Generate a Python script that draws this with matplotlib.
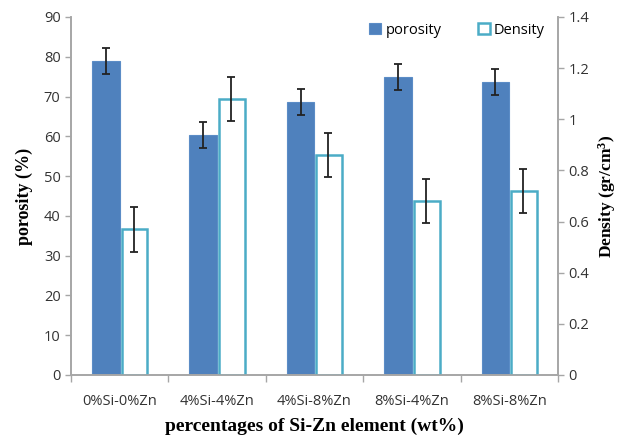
import numpy as np
import matplotlib
matplotlib.use('Agg')
import matplotlib.pyplot as plt

categories = ['0%Si-0%Zn', '4%Si-4%Zn', '4%Si-8%Zn', '8%Si-4%Zn', '8%Si-8%Zn']
porosity = [79.0, 60.3, 68.6, 75.0, 73.6]
porosity_err = [3.3, 3.3, 3.3, 3.3, 3.3]
density = [0.57, 1.08, 0.86, 0.68, 0.72]
density_err = [0.088, 0.086, 0.085, 0.085, 0.085]

blue = '#4f81bd'
cyan = '#4bacc6'
grey = '#a6a6a6'

plt.rcParams['mathtext.fontset'] = 'custom'
plt.rcParams['mathtext.rm'] = 'Liberation Serif:bold'
plt.rcParams['mathtext.it'] = 'Liberation Serif:bold'

fig = plt.figure(figsize=(6.2, 4.42), dpi=100)
ax = fig.add_axes([0.1145, 0.1516, 0.7855, 0.81])
ax2 = ax.twinx()

x = np.arange(len(categories))
w = 0.285

ax.bar(x - w / 2, porosity, w, color=blue, edgecolor='#5b8cc6', linewidth=0.8,
       label='porosity', zorder=2)
ax.errorbar(x - w / 2, porosity, yerr=porosity_err, fmt='none', ecolor='#222222',
            elinewidth=1.3, capsize=3, capthick=1.3, zorder=3)

ax2.bar(x + w / 2 + 0.01, density, w - 0.02, color='white', edgecolor=cyan, linewidth=1.8,
        label='Density', zorder=2)
ax2.errorbar(x + w / 2, density, yerr=density_err, fmt='none', ecolor='#222222',
             elinewidth=1.3, capsize=3, capthick=1.3, zorder=3)

ax.set_xlim(-0.5, len(categories) - 0.5)
ax.set_ylim(0, 90)
ax2.set_ylim(0, 1.4)
ax.set_yticks(np.arange(0, 91, 10))
ax2.set_yticks(np.arange(0, 1.41, 0.2))
ax2.set_yticklabels(['0', '0.2', '0.4', '0.6', '0.8', '1', '1.2', '1.4'])

ax.set_xticks(x)
ax.set_xticklabels(categories)
ax.tick_params(axis='x', which='major', length=0, pad=14)
ax.set_xticks(np.arange(-0.5, len(categories), 1.0), minor=True)
ax.tick_params(axis='x', which='minor', length=5, color=grey, width=1)

for a in (ax, ax2):
    a.spines['top'].set_visible(False)
    for s in ('left', 'right', 'bottom'):
        a.spines[s].set_color(grey)
        a.spines[s].set_linewidth(1.2)
    a.tick_params(axis='y', length=4, color=grey, width=1, labelsize=10.5,
                  labelcolor='#333333')
ax.tick_params(axis='x', labelsize=10.5, labelcolor='#333333')
for lab in ax.get_xticklabels() + ax.get_yticklabels() + ax2.get_yticklabels():
    lab.set_family('Open Sans')

serif = {'family': 'Liberation Serif', 'weight': 'bold', 'size': 13}
ax.set_ylabel('porosity (%)', fontdict=serif, labelpad=8)
ax2.set_ylabel('Density (gr/cm$^3$)', fontdict={**serif, 'size': 12.5}, labelpad=5)
ax.set_xlabel('percentages of Si-Zn element (wt%)', fontdict={**serif, 'size': 14}, labelpad=6)

h1, l1 = ax.get_legend_handles_labels()
h2, l2 = ax2.get_legend_handles_labels()
leg = ax2.legend(h1 + h2, l1 + l2, loc='upper right', ncol=2, frameon=False,
                 prop={'family': 'Open Sans', 'size': 10.5}, handlelength=0.8,
                 handleheight=0.8, columnspacing=2.5, handletextpad=0.3,
                 bbox_to_anchor=(1.0, 1.02))

fig.savefig('out.png', dpi=100)
